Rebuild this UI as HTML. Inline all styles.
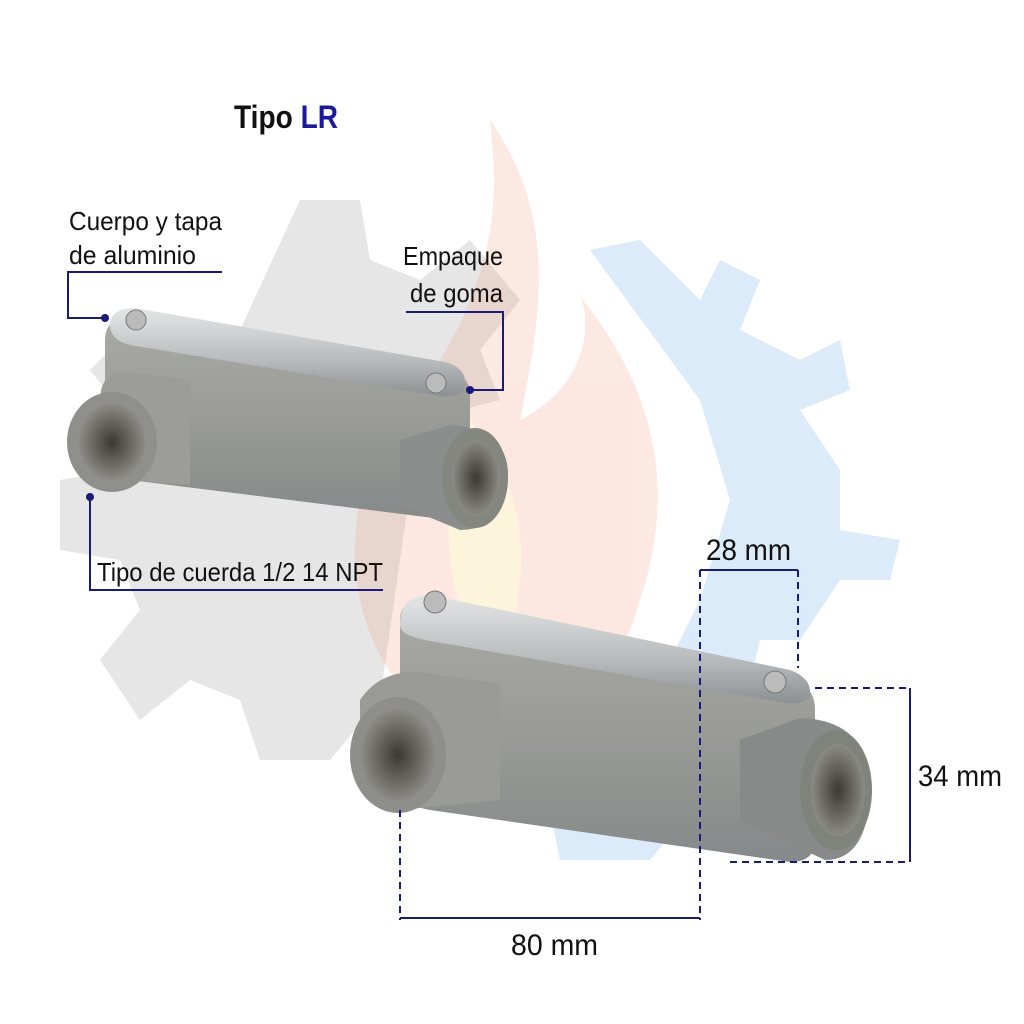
<!DOCTYPE html>
<html><head><meta charset="utf-8"><style>
html,body{margin:0;padding:0;background:#fff}
svg{display:block}
text{font-family:"Liberation Sans",sans-serif;fill:#111}
</style></head><body>
<svg width="1024" height="1024" viewBox="0 0 1024 1024">
<defs>
<linearGradient id="body" x1="0" y1="0" x2="0" y2="1">
<stop offset="0" stop-color="#a9aaa6"/><stop offset="0.5" stop-color="#9a9b97"/><stop offset="1" stop-color="#86898a"/></linearGradient>
<linearGradient id="lid" x1="0" y1="0" x2="0" y2="1">
<stop offset="0" stop-color="#e4e6e6"/><stop offset="0.6" stop-color="#b8bbbd"/><stop offset="1" stop-color="#8d9093"/></linearGradient>
<radialGradient id="hole"><stop offset="0" stop-color="#3a3a36"/><stop offset="0.6" stop-color="#6b6a63"/><stop offset="1" stop-color="#8c8c86"/></radialGradient>
</defs>
<g opacity="0.18">
<path d="M300 200 L360 200 L370 260 L420 280 L470 240 L520 300 L480 350 L500 400 L420 420 L380 700 L330 760 L260 760 L240 700 L190 680 L140 720 L100 660 L140 610 L120 560 L60 550 L60 480 L120 470 L130 420 L90 370 L150 310 L200 350 L240 330 Z" fill="#777"/>
</g>
<g opacity="0.22">
<path d="M490 120 C560 220 540 320 520 420 C600 380 590 300 575 290 C650 380 680 480 640 600 C620 680 560 720 470 740 C380 700 340 600 360 500 C380 430 440 380 470 300 C500 230 495 170 490 120 Z" fill="#f29a7a"/>
<path d="M470 420 C520 480 540 560 500 660 C450 620 430 540 470 420 Z" fill="#f5d060"/>
</g>
<g opacity="0.22" fill="#5aa3e6">
<path d="M590 250 L640 240 L700 300 L720 260 L760 280 L740 330 L800 360 L840 340 L850 390 L800 410 L840 470 L840 530 L900 540 L890 580 L840 580 L800 640 L760 640 L740 720 L700 740 L700 800 L650 860 L560 860 L540 760 L640 720 L700 600 L730 500 L700 400 Z"/>
</g>
<text x="234" y="128" font-size="32" font-weight="bold" textLength="104" lengthAdjust="spacingAndGlyphs">Tipo <tspan fill="#1a1a9a">LR</tspan></text>
<g>
<path d="M105 340 Q105 318 130 318 L445 370 Q470 374 470 395 L470 500 Q470 520 450 520 L130 480 Q105 476 105 455 Z" fill="url(#body)"/>
<path d="M110 325 Q110 308 135 308 L445 362 Q468 368 465 388 Q462 398 440 396 L130 345 Q110 340 110 325 Z" fill="url(#lid)"/>
<path d="M100 400 Q100 370 130 372 L190 380 L190 485 L120 480 Q100 475 100 440 Z" fill="#9c9d98"/>
<ellipse cx="112" cy="442" rx="45" ry="50" fill="#8f908b"/>
<ellipse cx="112" cy="442" rx="33" ry="38" fill="url(#hole)"/>
<path d="M400 440 L450 425 Q510 430 508 478 Q505 530 460 530 L400 505 Z" fill="#8b8e8d"/>
<ellipse cx="475" cy="478" rx="33" ry="50" fill="#84877f"/>
<ellipse cx="476" cy="478" rx="24" ry="38" fill="url(#hole)"/>
<circle cx="136" cy="320" r="10" fill="#bbb" stroke="#777"/>
<circle cx="436" cy="383" r="10" fill="#bbb" stroke="#777"/>
</g>
<g>
<path d="M400 620 Q400 600 425 600 L790 680 Q815 685 815 710 L815 840 Q815 862 790 862 L430 810 Q400 805 400 780 Z" fill="url(#body)"/>
<path d="M400 625 Q400 595 430 595 L790 670 Q812 678 810 695 Q806 705 785 703 L425 640 Q400 635 400 625 Z" fill="url(#lid)"/>
<path d="M360 700 Q380 670 420 672 L500 684 L500 800 L400 810 Q360 800 360 760 Z" fill="#9a9b96"/>
<ellipse cx="398" cy="755" rx="48" ry="58" fill="#8e8f8a"/>
<ellipse cx="398" cy="755" rx="37" ry="46" fill="url(#hole)"/>
<path d="M740 740 L800 718 Q870 720 870 790 Q868 860 825 860 L740 820 Z" fill="#878a89"/>
<ellipse cx="836" cy="790" rx="36" ry="60" fill="#80837c"/>
<ellipse cx="838" cy="790" rx="27" ry="46" fill="url(#hole)"/>
<circle cx="435" cy="602" r="11" fill="#bbb" stroke="#777"/>
<circle cx="775" cy="682" r="11" fill="#bbb" stroke="#777"/>
</g>
<g stroke="#1a1a7a" stroke-width="2" fill="none">
<path d="M222 272 L68 272 L68 318 L105 318"/>
<path d="M406 312 L503 312 L503 390 L470 390"/>
<path d="M90 497 L90 590 L383 590"/>
<path d="M400 810 V920 M700 570 V920" stroke-dasharray="7,5"/>
<path d="M400 918 H700"/>
<path d="M798 570 V668" stroke-dasharray="7,5"/>
<path d="M700 570 H798"/>
<path d="M815 688 H910 M730 862 H910" stroke-dasharray="7,5"/>
<path d="M910 688 V862"/>
</g>
<g fill="#1a1a7a"><circle cx="105" cy="318" r="4"/><circle cx="470" cy="390" r="4"/><circle cx="90" cy="497" r="4"/></g>
<g font-size="26" lengthAdjust="spacingAndGlyphs">
<text x="69" y="230" textLength="153" lengthAdjust="spacingAndGlyphs">Cuerpo y tapa</text>
<text x="69" y="264" textLength="127" lengthAdjust="spacingAndGlyphs">de aluminio</text>
<text x="403" y="265" textLength="100" lengthAdjust="spacingAndGlyphs">Empaque</text>
<text x="410" y="302" textLength="93" lengthAdjust="spacingAndGlyphs">de goma</text>
<text x="97" y="581" textLength="286" lengthAdjust="spacingAndGlyphs">Tipo de cuerda 1/2 14 NPT</text>
</g>
<g font-size="30">
<text x="706" y="560" textLength="85" lengthAdjust="spacingAndGlyphs">28 mm</text>
<text x="918" y="786" textLength="84" lengthAdjust="spacingAndGlyphs">34 mm</text>
<text x="511" y="955" textLength="87" lengthAdjust="spacingAndGlyphs">80 mm</text>
</g>
</svg>
</body></html>
